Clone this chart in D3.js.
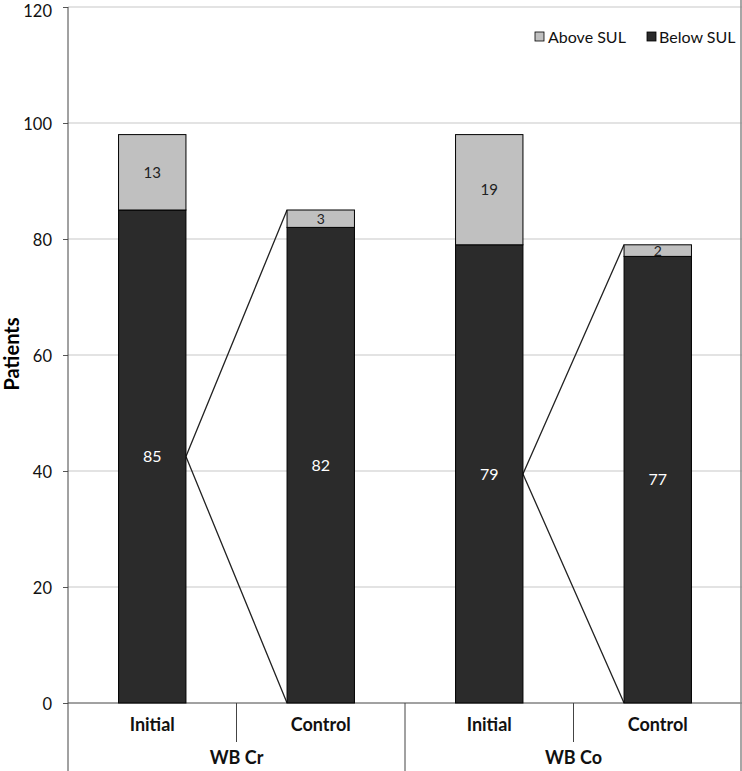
<!DOCTYPE html>
<html><head><meta charset="utf-8">
<script src="https://cdn.jsdelivr.net/npm/d3@7"></script>
<style>body{margin:0;background:#fff}svg{display:block}text{font-family:Lato,"DejaVu Sans",sans-serif}</style>
</head><body><svg id="c" width="742" height="771"></svg>
<script>
const groups = ["WB Cr","WB Cr","WB Co","WB Co"];
const phases = ["Initial","Control","Initial","Control"];
const belowSUL = [85,82,79,77];
const aboveSUL = [13,3,19,2];
const yTicks = [0,20,40,60,80,100,120];
const seriesNames = ["Above SUL","Below SUL"];
const colors = {"Above SUL":"#c0c0c0","Below SUL":"#2b2b2b"};

const svg = d3.select("#c");
const L=68, R=742, T=7, B=703;
const x = d3.scaleBand().domain(d3.range(4)).range([L,R]).paddingInner(0).paddingOuter(0);
const y = d3.scaleLinear().domain([0,120]).range([B,T]);
const bw = x.bandwidth()*0.4;

// gridlines
svg.append("g").selectAll("line").data(yTicks.filter(d=>d>0)).join("line")
  .attr("x1",L).attr("x2",R).attr("y1",d=>y(d)).attr("y2",d=>y(d))
  .attr("stroke","#c8c8c8").attr("stroke-width",1.2);

// y axis
const yAxis = d3.axisLeft(y).tickValues(yTicks).tickSize(5).tickPadding(11);
const ga = svg.append("g").attr("transform",`translate(${L},0)`).call(yAxis);
ga.select(".domain").remove();
ga.selectAll("line").attr("stroke","#555");
ga.selectAll("text").attr("font-size",16.5).attr("fill","#111").attr("dy",d=>d===120?"0.6em":"0.42em");
svg.append("line").attr("x1",L).attr("x2",L).attr("y1",T).attr("y2",771).attr("stroke","#444");

// x axis base
svg.append("line").attr("x1",L).attr("x2",R).attr("y1",B).attr("y2",B).attr("stroke","#444");

// category separators
[1,3].forEach(i=>svg.append("line").attr("x1",x(i)).attr("x2",x(i)).attr("y1",B).attr("y2",742).attr("stroke","#444"));
svg.append("line").attr("x1",x(2)).attr("x2",x(2)).attr("y1",B).attr("y2",771).attr("stroke","#444");
svg.append("line").attr("x1",R-1).attr("x2",R-1).attr("y1",0).attr("y2",771).attr("stroke","#888").attr("stroke-width",1.5);

// connectors
[0,2].forEach(i=>{
  const x0 = x(i)+x.bandwidth()/2+bw/2, ym = y(belowSUL[i]/2);
  const x1 = x(i+1)+x.bandwidth()/2-bw/2;
  const tot = belowSUL[i+1]+aboveSUL[i+1];
  svg.append("polyline").attr("points",`${x1},${y(tot)} ${x0},${ym} ${x1},${y(0)}`)
    .attr("fill","none").attr("stroke","#222").attr("stroke-width",1.3);
});

// bars
const bars = svg.append("g");
d3.range(4).forEach(i=>{
  const cx = x(i)+x.bandwidth()/2;
  bars.append("rect").attr("x",cx-bw/2).attr("width",bw).attr("y",y(belowSUL[i])).attr("height",y(0)-y(belowSUL[i]))
    .attr("fill",colors["Below SUL"]).attr("stroke","#000").attr("stroke-width",1);
  bars.append("rect").attr("x",cx-bw/2).attr("width",bw).attr("y",y(belowSUL[i]+aboveSUL[i])).attr("height",y(belowSUL[i])-y(belowSUL[i]+aboveSUL[i]))
    .attr("fill",colors["Above SUL"]).attr("stroke","#000").attr("stroke-width",1);
  bars.append("text").attr("x",cx).attr("y",y(belowSUL[i]/2)).attr("dy","0.36em").attr("text-anchor","middle")
    .attr("font-size",16).attr("fill","#fff").text(belowSUL[i]);
  bars.append("text").attr("x",cx).attr("y",y(belowSUL[i]+aboveSUL[i]/2)).attr("dy","0.36em").attr("text-anchor","middle")
    .attr("font-size",aboveSUL[i]<5?14:15).attr("fill","#222").text(aboveSUL[i]);
});

// x labels
d3.range(4).forEach(i=>{
  svg.append("text").attr("x",x(i)+x.bandwidth()/2).attr("y",725).attr("dy","0.36em").attr("text-anchor","middle")
    .attr("font-size",18).attr("font-weight","bold").attr("fill","#111").text(phases[i]);
});
[0,2].forEach(i=>{
  svg.append("text").attr("x",x(i)+x.bandwidth()).attr("y",758).attr("dy","0.36em").attr("text-anchor","middle")
    .attr("font-size",18).attr("font-weight","bold").attr("fill","#111").text(groups[i]);
});

// y title
svg.append("text").attr("transform","translate(19,354) rotate(-90)").attr("text-anchor","middle")
  .attr("font-size",20).attr("font-weight","bold").attr("fill","#000").text("Patients");

// legend
const leg = [{n:"Above SUL",sx:535,tx:548},{n:"Below SUL",sx:647,tx:659}];
leg.forEach(l=>{
  svg.append("rect").attr("x",l.sx).attr("y",32).attr("width",9).attr("height",9).attr("fill",colors[l.n]).attr("stroke","#000").attr("stroke-width",0.8);
  svg.append("text").attr("x",l.tx).attr("y",37).attr("dy","0.36em").attr("font-size",16).attr("fill","#111").text(l.n);
});
</script></body></html>
